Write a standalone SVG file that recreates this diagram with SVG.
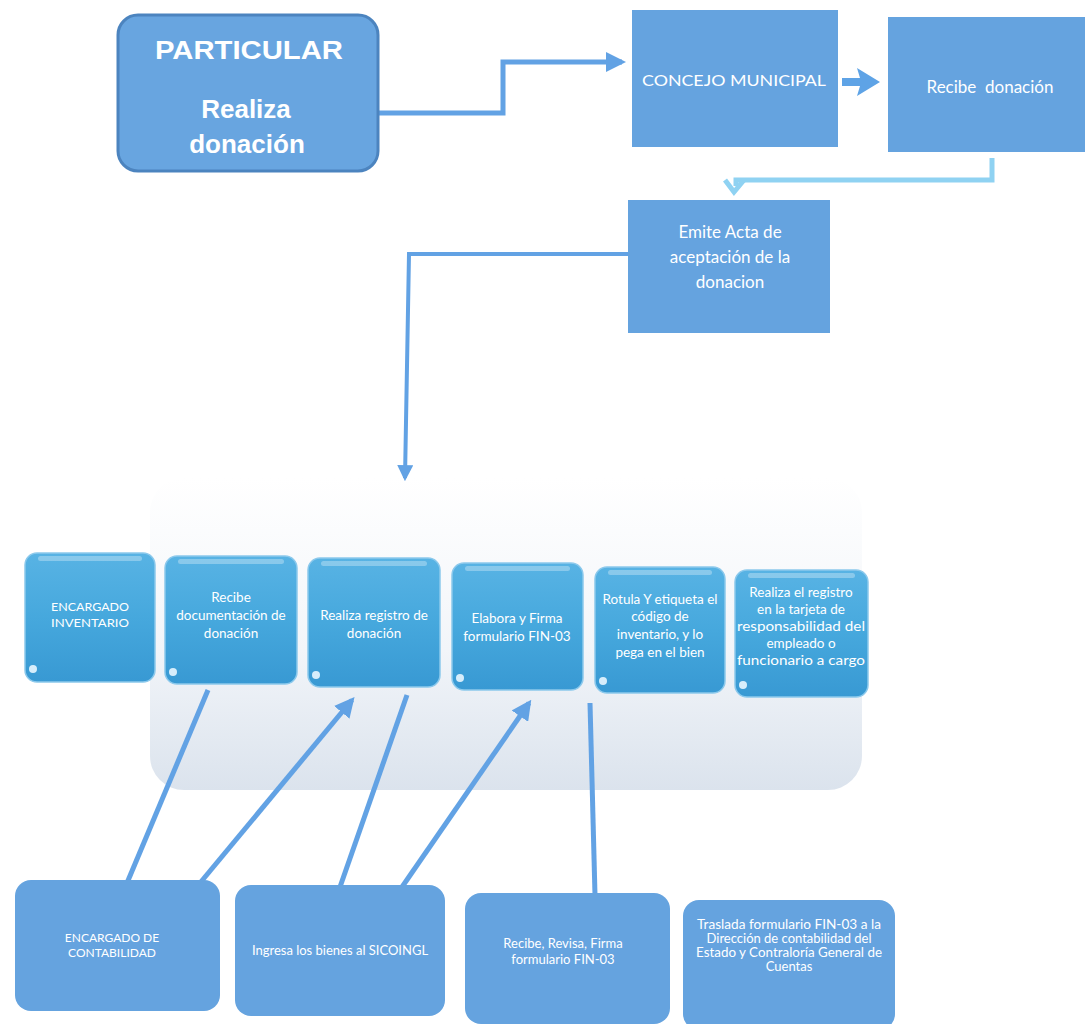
<svg xmlns="http://www.w3.org/2000/svg" width="1085" height="1024" viewBox="0 0 1085 1024">
<defs>
<style>
.box{fill:#65a3df;}
.t{font-family:"Lato","Liberation Sans",sans-serif;fill:#ffffff;text-anchor:middle;}
.big{font-family:"Liberation Sans",sans-serif;font-weight:bold;font-size:26px;fill:#ffffff;text-anchor:middle;}
.mid{font-size:17px;}
.sm{font-size:13.5px;}
.bs{font-size:13px;}
.ln{fill:none;stroke:#62a2e4;stroke-width:5;}
.gl{fill:url(#gloss);stroke:#8cc9ec;stroke-width:1.5;}
.hl{fill:#ffffff;opacity:0.3;}
.dot{fill:#e8f6ff;opacity:0.9;}
</style>
<linearGradient id="gloss" x1="0" y1="0" x2="0" y2="1">
<stop offset="0" stop-color="#58b3e4"/>
<stop offset="0.5" stop-color="#46a8dd"/>
<stop offset="1" stop-color="#3899d3"/>
</linearGradient>
<linearGradient id="panel" x1="0" y1="0" x2="0" y2="1">
<stop offset="0" stop-color="#ffffff"/>
<stop offset="0.55" stop-color="#f2f5f9"/>
<stop offset="1" stop-color="#dbe3ed"/>
</linearGradient>
<marker id="ah" viewBox="0 0 10 10" refX="8" refY="5" markerWidth="4" markerHeight="4" orient="auto" markerUnits="strokeWidth">
<path d="M0,0 L10,5 L0,10 z" fill="#62a2e4"/>
</marker>
</defs>
<rect width="1085" height="1024" fill="#ffffff"/>
<g id="panel-bg">
<rect x="150" y="478" width="712" height="312" rx="34" fill="url(#panel)"/>
</g>
<g id="connectors">
<polyline class="ln" points="378,113 503,113 503,62 622,62" marker-end="url(#ah)"/>
<path d="M842,78 L860,78 L857,68 L880,82 L857,96 L860,86 L842,86 z" fill="#5ea3e6"/>
<polyline points="992,158 992,180 736,180 736,186" fill="none" stroke="#8fd2f2" stroke-width="5"/>
<path d="M725,180 L734,192 L744,180" fill="none" stroke="#8fd2f2" stroke-width="5"/>
<polyline class="ln" points="628,254 409,254 405,478" marker-end="url(#ah)" style="stroke-width:4"/>
<line class="ln" x1="127" y1="883" x2="208" y2="690"/>
<line class="ln" x1="200" y1="883" x2="352" y2="700" marker-end="url(#ah)"/>
<line class="ln" x1="340" y1="887" x2="407" y2="695"/>
<line class="ln" x1="402" y1="887" x2="529" y2="703" marker-end="url(#ah)"/>
<line class="ln" x1="590" y1="703" x2="595" y2="895"/>
</g>
<g id="n-particular">
<rect x="118" y="15" width="260" height="156" rx="20" fill="#68a5e0" stroke="#4c84bf" stroke-width="3"/>
<text class="big" x="249" y="59" textLength="188" lengthAdjust="spacingAndGlyphs">PARTICULAR</text>
<text class="big" x="246" y="118">Realiza</text>
<text class="big" x="247" y="153">donación</text>
</g>
<g id="n-concejo">
<rect class="box" x="632" y="10" width="206" height="137"/>
<text class="t" style="font-size:16px" x="734" y="86" textLength="184" lengthAdjust="spacingAndGlyphs">CONCEJO MUNICIPAL</text>
</g>
<g id="n-recibe">
<rect class="box" x="888" y="17" width="197" height="135"/>
<text class="t mid" x="990" y="93" xml:space="preserve">Recibe  donación</text>
</g>
<g id="n-emite">
<rect class="box" x="628" y="200" width="202" height="133"/>
<text class="t mid" x="730" y="238">Emite Acta de</text>
<text class="t mid" x="730" y="263">aceptación de la</text>
<text class="t mid" x="730" y="288">donacion</text>
</g>
<g id="p1">
<rect class="gl" x="25" y="553" width="130" height="129" rx="12"/>
<rect class="hl" x="38" y="556" width="104" height="5" rx="2.5"/>
<circle class="dot" cx="33" cy="669" r="4"/>
<text class="t" style="font-size:11.5px" x="90" y="611" textLength="78" lengthAdjust="spacingAndGlyphs">ENCARGADO</text>
<text class="t" style="font-size:11.5px" x="90" y="627" textLength="78" lengthAdjust="spacingAndGlyphs">INVENTARIO</text>
</g>
<g id="p2">
<rect class="gl" x="165" y="556" width="132" height="128" rx="12"/>
<rect class="hl" x="178" y="559" width="106" height="5" rx="2.5"/>
<circle class="dot" cx="173" cy="672" r="4"/>
<text class="t sm" x="231" y="602">Recibe</text>
<text class="t sm" x="231" y="620">documentación de</text>
<text class="t sm" x="231" y="638">donación</text>
</g>
<g id="p3">
<rect class="gl" x="308" y="558" width="132" height="129" rx="12"/>
<rect class="hl" x="321" y="561" width="106" height="5" rx="2.5"/>
<circle class="dot" cx="316" cy="675" r="4"/>
<text class="t sm" x="374" y="620">Realiza registro de</text>
<text class="t sm" x="374" y="638">donación</text>
</g>
<g id="p4">
<rect class="gl" x="452" y="563" width="131" height="127" rx="12"/>
<rect class="hl" x="465" y="566" width="105" height="5" rx="2.5"/>
<circle class="dot" cx="460" cy="678" r="4"/>
<text class="t sm" x="517" y="623">Elabora y Firma</text>
<text class="t sm" x="517" y="641">formulario FIN-03</text>
</g>
<g id="p5">
<rect class="gl" x="595" y="567" width="130" height="126" rx="12"/>
<rect class="hl" x="608" y="570" width="104" height="5" rx="2.5"/>
<circle class="dot" cx="603" cy="681" r="4"/>
<text class="t sm" x="660" y="604">Rotula Y etiqueta el</text>
<text class="t sm" x="660" y="621">código de</text>
<text class="t sm" x="660" y="639">inventario, y lo</text>
<text class="t sm" x="660" y="657">pega en el bien</text>
</g>
<g id="p6">
<rect class="gl" x="735" y="570" width="133" height="127" rx="12"/>
<rect class="hl" x="748" y="573" width="107" height="5" rx="2.5"/>
<circle class="dot" cx="743" cy="685" r="4"/>
<text class="t sm" x="801" y="597">Realiza el registro</text>
<text class="t sm" x="801" y="614">en la tarjeta de</text>
<text class="t sm" x="801" y="631" textLength="128" lengthAdjust="spacingAndGlyphs">responsabilidad del</text>
<text class="t sm" x="801" y="648">empleado o</text>
<text class="t sm" x="801" y="665" textLength="128" lengthAdjust="spacingAndGlyphs">funcionario a cargo</text>
</g>
<g id="b1">
<rect class="box" x="15" y="880" width="205" height="131" rx="16"/>
<text class="t" style="font-size:12px" x="112" y="942">ENCARGADO DE</text>
<text class="t" style="font-size:12px" x="112" y="957">CONTABILIDAD</text>
</g>
<g id="b2">
<rect class="box" x="235" y="885" width="210" height="131" rx="16"/>
<text class="t bs" x="340" y="955">Ingresa los bienes al SICOINGL</text>
</g>
<g id="b3">
<rect class="box" x="465" y="893" width="205" height="131" rx="16"/>
<text class="t bs" x="563" y="948">Recibe, Revisa, Firma</text>
<text class="t bs" x="563" y="964">formulario FIN-03</text>
</g>
<g id="b4">
<rect class="box" x="683" y="900" width="212" height="130" rx="16"/>
<text class="t bs" x="789" y="929" textLength="184" lengthAdjust="spacingAndGlyphs">Traslada formulario FIN-03 a la</text>
<text class="t bs" x="789" y="943">Dirección de contabilidad del</text>
<text class="t bs" x="789" y="957" textLength="186" lengthAdjust="spacingAndGlyphs">Estado y Contraloría General de</text>
<text class="t bs" x="789" y="971">Cuentas</text>
</g>
</svg>
